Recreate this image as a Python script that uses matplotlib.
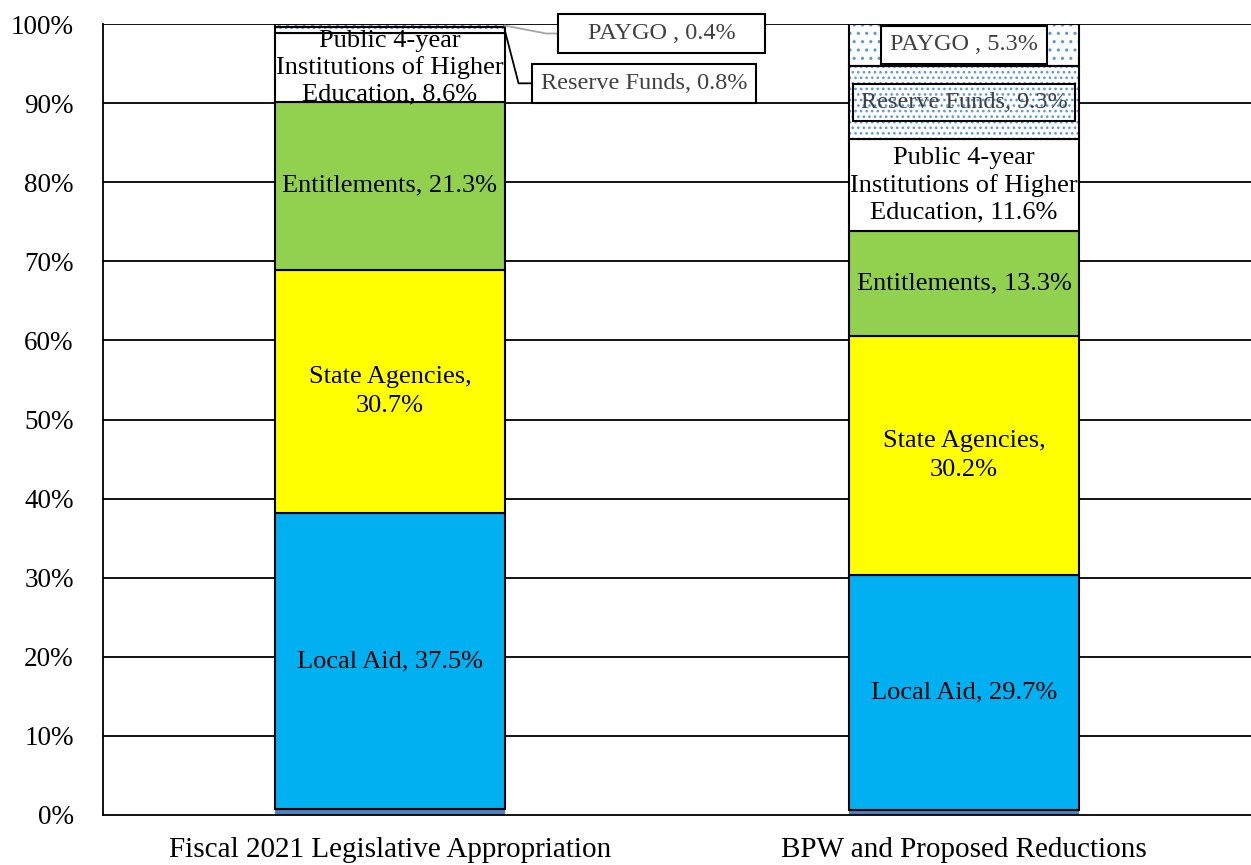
import matplotlib.pyplot as plt
from matplotlib.patches import Rectangle
import numpy as np

plt.rcParams["font.family"] = ["Liberation Serif", "DejaVu Serif"]
plt.rcParams["hatch.linewidth"] = 1.1

categories = ["Fiscal 2021 Legislative Appropriation", "BPW and Proposed Reductions"]
segments = ["Debt Service", "Local Aid", "State Agencies", "Entitlements",
            "Public 4-year Institutions of Higher Education", "Reserve Funds", "PAYGO"]
debt_service = [0.7, 0.6]
local_aid = [37.5, 29.7]
state_agencies = [30.7, 30.2]
entitlements = [21.3, 13.3]
higher_ed = [8.6, 11.6]
reserve_funds = [0.8, 9.3]
paygo = [0.4, 5.3]
y_ticks = np.arange(0, 101, 10)

values = [debt_service, local_aid, state_agencies, entitlements, higher_ed, reserve_funds, paygo]
colors = ["#4F81BD", "#00B0F0", "#FFFF00", "#92D050", "white", "white", "white"]
hatches = [None, None, None, None, None, "...", ".."]

fig = plt.figure(figsize=(12.51, 8.65), dpi=100)
ax = fig.add_axes([103 / 1251, 50 / 865, 1148 / 1251, 791 / 865])

x = np.arange(len(categories))
width = 0.4
fs = 19
fs_box = 17.5

for yv in y_ticks[1:]:
    ax.axhline(yv, color="black", lw=1.3, zorder=0)

bottom = np.zeros(len(categories))
for name, vals, col, hat in zip(segments, values, colors, hatches):
    vals = np.array(vals)
    if name == "Debt Service":
        ax.bar(x, vals, width, bottom=bottom, color=col, edgecolor="none", zorder=2)
    elif hat:
        ax.bar(x, vals, width, bottom=bottom, color=col, edgecolor="#5B9BD5",
               hatch=hat, lw=0, zorder=2)
        ax.bar(x, vals, width, bottom=bottom, fill=False, edgecolor="black", lw=1.5, zorder=3)
    else:
        ax.bar(x, vals, width, bottom=bottom, color=col, edgecolor="black", lw=1.5, zorder=2)
    bottom += vals

# segment midpoints
bottom = np.zeros(len(categories))
mids = {}
for name, vals in zip(segments, values):
    vals = np.array(vals)
    mids[name] = bottom + vals / 2
    bottom += vals

label_fmt = {
    "Local Aid": ("Local Aid, {:.1f}%", 1.2),
    "State Agencies": ("State Agencies,\n{:.1f}%", 1.4),
    "Entitlements": ("Entitlements, {:.1f}%", 1.2),
    "Public 4-year Institutions of Higher Education":
        ("Public 4-year\nInstitutions of Higher\nEducation, {:.1f}%", 1.25),
}
for name, (fmt, ls) in label_fmt.items():
    vals = values[segments.index(name)]
    for i in range(len(categories)):
        ax.text(x[i], mids[name][i], fmt.format(vals[i]), ha="center", va="center",
                fontsize=fs, linespacing=ls, zorder=5)

grey = "#404040"

# right bar labels in boxes
ax.text(x[1], mids["Reserve Funds"][1], "Reserve Funds, {:.1f}%".format(reserve_funds[1]),
        ha="center", va="center", fontsize=fs_box, color=grey, zorder=5,
        bbox=dict(boxstyle="square,pad=0.33", fc="none", ec="black", lw=1.5))
ax.text(x[1], mids["PAYGO"][1], "PAYGO , {:.1f}%".format(paygo[1]),
        ha="center", va="center", fontsize=fs_box, color=grey, zorder=5,
        bbox=dict(boxstyle="square,pad=0.36", fc="white", ec="black", lw=1.5))

# left bar callouts
right_edge = x[0] + width / 2
ax.plot([right_edge, right_edge + 0.072, right_edge + 0.093],
        [mids["PAYGO"][0], 98.8, 98.8], color="#A6A6A6", lw=1.3, zorder=4, clip_on=False)
ax.add_patch(Rectangle((right_edge + 0.093, 96.3), 0.361, 5.0, fc="white", ec="black",
                       lw=1.5, zorder=4, clip_on=False))
ax.text(right_edge + 0.093 + 0.1805, 98.8, "PAYGO , {:.1f}%".format(paygo[0]), ha="center",
        va="center", fontsize=fs_box, color=grey, zorder=5, clip_on=False)
ax.plot([right_edge, right_edge + 0.024, right_edge + 0.046],
        [mids["Reserve Funds"][0], 92.5, 92.5], color="black", lw=1.3, zorder=4)
ax.text(right_edge + 0.063, 92.5, "Reserve Funds, {:.1f}%".format(reserve_funds[0]), ha="left",
        va="center", fontsize=fs_box, color=grey, zorder=5,
        bbox=dict(boxstyle="square,pad=0.36", fc="white", ec="black", lw=1.5))

ax.set_xlim(-0.5, 1.5)
ax.set_ylim(0, 100)
ax.set_yticks(y_ticks)
ax.set_yticklabels([f"{v}%" for v in y_ticks], fontsize=19.5)
ax.set_xticks(x)
ax.set_xticklabels(categories, fontsize=21)
ax.tick_params(axis="y", length=0, pad=21)
ax.tick_params(axis="x", length=0, pad=16)
for s in ["top", "right"]:
    ax.spines[s].set_visible(False)
ax.spines["left"].set_linewidth(1.3)
ax.spines["bottom"].set_linewidth(1.3)

fig.savefig("out.png", dpi=100)
